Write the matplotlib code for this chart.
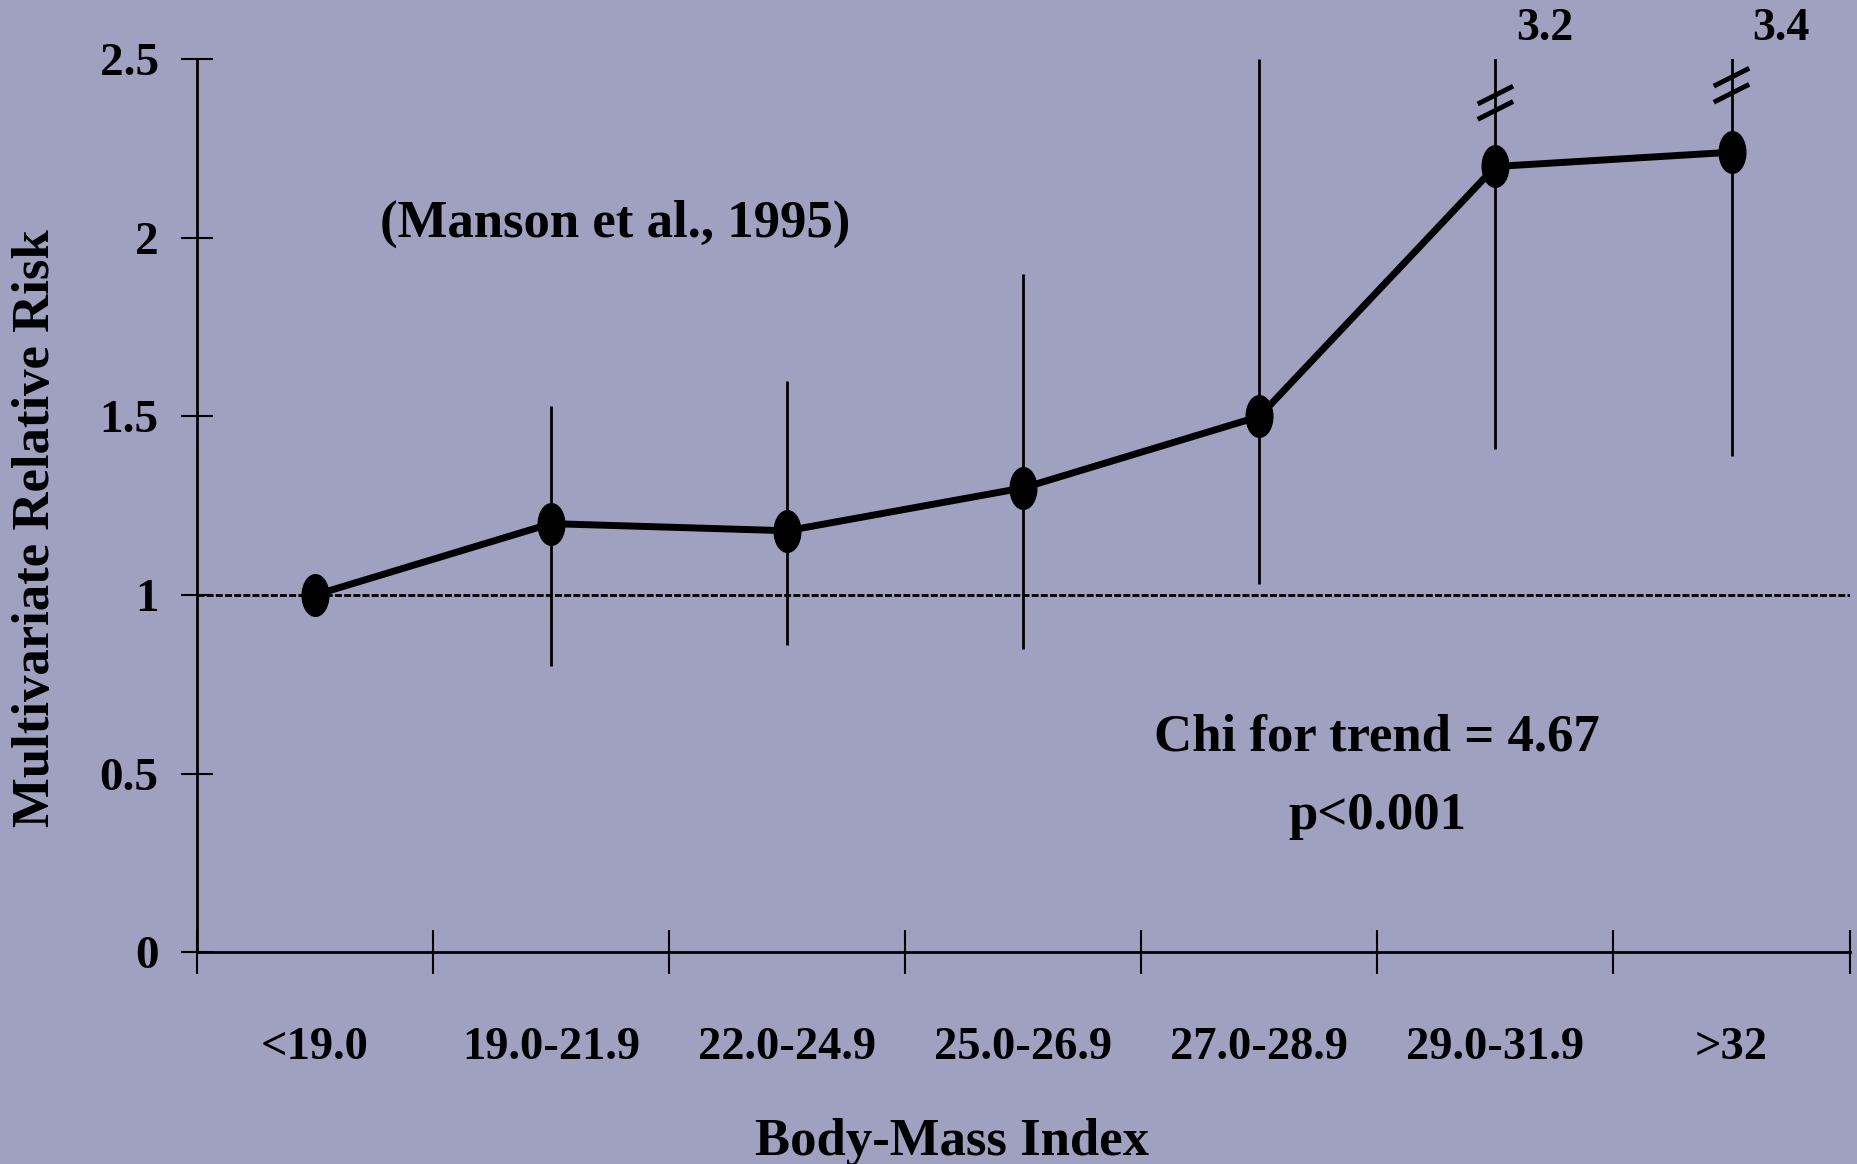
import numpy as np
import matplotlib
matplotlib.use('Agg')
import matplotlib.pyplot as plt
from matplotlib.path import Path
from matplotlib.transforms import Affine2D

# data
categories = ['<19.0', '19.0-21.9', '22.0-24.9', '25.0-26.9',
              '27.0-28.9', '29.0-31.9', '>32']
rr = [1.0, 1.2, 1.18, 1.3, 1.5, 2.2, 2.24]
ci_low = [np.nan, 0.80, 0.86, 0.85, 1.03, 1.41, 1.39]
ci_high = [np.nan, 1.53, 1.60, 1.90, 2.50, 3.2, 3.4]
yticks = [0, 0.5, 1, 1.5, 2, 2.5]
ytick_labels = ['0', '0.5', '1', '1.5', '2', '2.5']

bg = '#a0a0c0'
plt.rcParams['font.family'] = 'Liberation Serif'
plt.rcParams['font.weight'] = 'bold'
plt.rcParams['axes.labelweight'] = 'bold'

fig = plt.figure(figsize=(18.57, 11.64), dpi=100, facecolor=bg)
ax = fig.add_axes([0.106, 0.182, 0.890, 0.767], facecolor=bg)

x = np.arange(len(categories)) + 0.5
ymax = 2.5

# reference line at RR = 1
ax.axhline(1, color='black', lw=2, ls=(0, (2.5, 0.8)), zorder=1)

# confidence intervals (clipped at the top of the axis)
ax.vlines(x, ci_low, ci_high, color='black', lw=2, zorder=2)

# elliptical markers like the original slide
ell = Path.unit_circle().transformed(Affine2D().scale(0.64, 1.0))
ax.plot(x, rr, color='black', lw=5, marker=ell, ms=30,
        mfc='black', mec='black', zorder=3)

# break marks and off-scale upper limits
off_scale = [i for i, hi in enumerate(ci_high) if hi > ymax]
break_y = {5: (2.40, 2.357), 6: (2.45, 2.405)}
for i in off_scale:
    xi, hi = x[i], ci_high[i]
    for yb in break_y[i]:
        ax.plot([xi - 0.075, xi + 0.075], [yb - 0.025, yb + 0.025],
                color='black', lw=3.5, solid_capstyle='butt',
                clip_on=False, zorder=4)
    ax.text(xi + 0.21, 2.585, f'{hi:.1f}', fontsize=33,
            ha='center', va='center', clip_on=False)

ax.set_xlim(0, len(categories))
ax.set_ylim(0, ymax)

for s in ['top', 'right']:
    ax.spines[s].set_visible(False)
for s in ['left', 'bottom']:
    ax.spines[s].set_linewidth(2)

ax.set_yticks(yticks)
ax.set_yticklabels(ytick_labels, fontsize=34)
ax.tick_params(axis='y', direction='inout', length=23, width=1.5, pad=16)

ax.set_xticks(np.arange(len(categories) + 1))
ax.set_xticklabels([])
ax.tick_params(axis='x', which='major', direction='inout', length=32, width=1.5)
ax.set_xticks(x, minor=True)
ax.set_xticklabels(categories, minor=True, fontsize=33.5)
ax.tick_params(axis='x', which='minor', length=0, pad=54)

ax.set_ylabel('Multivariate Relative Risk', fontsize=38, va='center')
ax.yaxis.set_label_coords(-0.0974, 0.475)
ax.set_xlabel('Body-Mass Index', fontsize=38, va='baseline')
ax.xaxis.set_label_coords(0.4567, -0.227)

ax.text(1.77, 2.04, '(Manson et al., 1995)', fontsize=38,
        ha='center', va='center')
ax.text(5.0, 0.6, 'Chi for trend = 4.67', fontsize=38,
        ha='center', va='center')
ax.text(5.0, 0.38, 'p<0.001', fontsize=38, ha='center', va='center')

fig.savefig('out.png', dpi=100, facecolor=bg)
